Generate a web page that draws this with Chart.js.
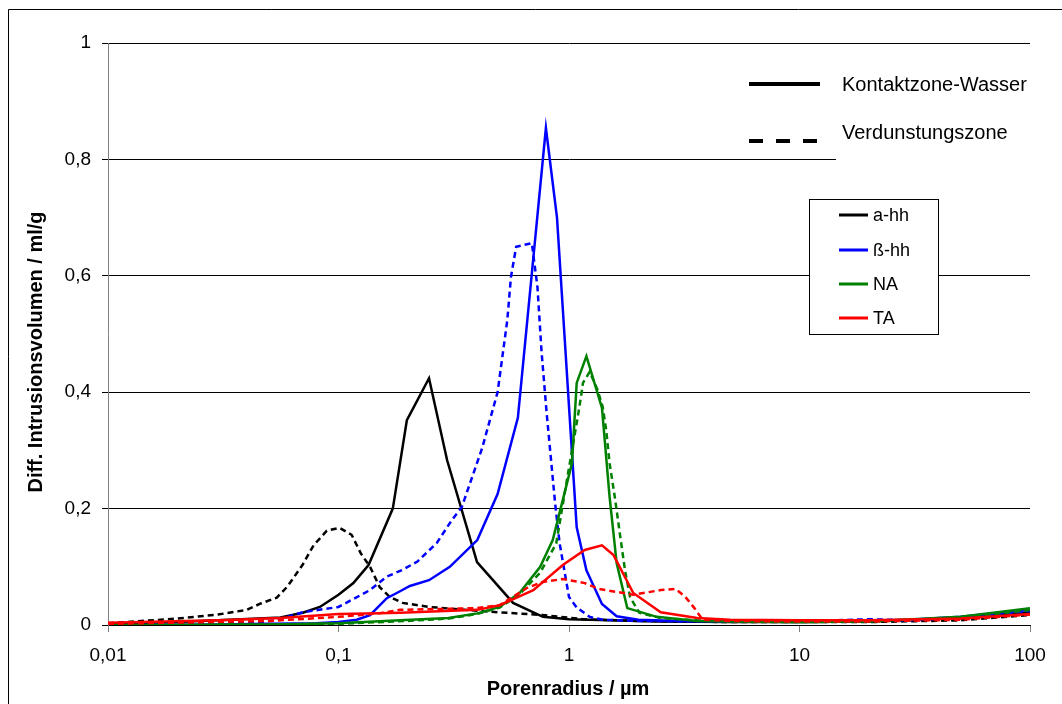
<!DOCTYPE html>
<html><head><meta charset="utf-8">
<script src="https://cdn.jsdelivr.net/npm/chart.js@4.4.1/dist/chart.umd.min.js"></script>
<style>html,body{margin:0;padding:0;background:#fff;}canvas{display:block;}</style>
</head><body>
<canvas id="c" width="1062" height="704"></canvas>
<script>
// ---- axis / label data ----
const xTickValues = [0.01, 0.1, 1, 10, 100];
const xTickLabels = ['0,01', '0,1', '1', '10', '100'];
const yTickValues = [0, 0.2, 0.4, 0.6, 0.8, 1];
const yTickLabels = ['0', '0,2', '0,4', '0,6', '0,8', '1'];
const seriesNames = ['a-hh', 'ß-hh', 'NA', 'TA'];
const zoneNames = ['Kontaktzone-Wasser', 'Verdunstungszone'];
const xTitle = 'Porenradius / µm';
const yTitle = 'Diff. Intrusionsvolumen / ml/g';

// ---- a-hh ----
const aHhKontaktR = [0.01, 0.02, 0.03, 0.045, 0.056, 0.07, 0.083, 0.1, 0.116, 0.135, 0.172, 0.198, 0.247, 0.296, 0.399, 0.572, 0.771, 1.0, 1.5, 2.5, 5, 10, 20, 50, 100];
const aHhKontaktV = [0.002, 0.005, 0.008, 0.011, 0.013, 0.021, 0.031, 0.052, 0.072, 0.103, 0.2, 0.352, 0.424, 0.283, 0.108, 0.038, 0.014, 0.010, 0.008, 0.006, 0.005, 0.005, 0.006, 0.012, 0.022];
const aHhVerdR = [0.01, 0.02, 0.03, 0.04, 0.046, 0.054, 0.06, 0.07, 0.078, 0.089, 0.101, 0.114, 0.125, 0.137, 0.151, 0.167, 0.19, 0.247, 0.49, 0.77, 1.15, 2, 5, 10, 20, 50, 100];
const aHhVerdV = [0.003, 0.011, 0.018, 0.026, 0.037, 0.047, 0.066, 0.104, 0.137, 0.162, 0.167, 0.155, 0.123, 0.1, 0.065, 0.048, 0.038, 0.031, 0.022, 0.017, 0.010, 0.007, 0.005, 0.005, 0.005, 0.008, 0.017];

// ---- ß-hh ----
const bHhKontaktR = [0.01, 0.03, 0.05, 0.08, 0.1, 0.12, 0.137, 0.162, 0.185, 0.204, 0.247, 0.304, 0.40, 0.49, 0.60, 0.794, 0.887, 1.08, 1.19, 1.39, 1.61, 2, 3, 5, 10, 20, 30, 50, 100];
const bHhKontaktV = [0.0, 0.001, 0.002, 0.003, 0.005, 0.009, 0.017, 0.046, 0.058, 0.067, 0.077, 0.1, 0.146, 0.225, 0.356, 0.854, 0.70, 0.168, 0.094, 0.036, 0.015, 0.009, 0.007, 0.006, 0.006, 0.007, 0.009, 0.014, 0.026];
const bHhVerdR = [0.01, 0.03, 0.047, 0.055, 0.07, 0.1, 0.137, 0.162, 0.19, 0.22, 0.267, 0.31, 0.343, 0.42, 0.49, 0.54, 0.56, 0.59, 0.69, 0.73, 0.76, 0.80, 0.87, 0.91, 1.0, 1.08, 1.23, 1.4, 2, 5, 10, 20, 30, 50, 100];
const bHhVerdV = [0.001, 0.003, 0.005, 0.009, 0.022, 0.031, 0.06, 0.083, 0.095, 0.109, 0.141, 0.18, 0.203, 0.304, 0.40, 0.524, 0.598, 0.65, 0.656, 0.58, 0.47, 0.364, 0.21, 0.141, 0.048, 0.03, 0.014, 0.009, 0.007, 0.006, 0.006, 0.010, 0.008, 0.012, 0.024];

// ---- NA ----
const naKontaktR = [0.01, 0.05, 0.1, 0.185, 0.3, 0.4, 0.5, 0.61, 0.75, 0.85, 0.94, 1.03, 1.08, 1.19, 1.39, 1.5, 1.61, 1.79, 2.4, 3.6, 5, 10, 20, 50, 100];
const naKontaktV = [0.0, 0.001, 0.003, 0.008, 0.012, 0.02, 0.031, 0.055, 0.1, 0.146, 0.215, 0.278, 0.416, 0.462, 0.373, 0.22, 0.106, 0.029, 0.014, 0.007, 0.006, 0.005, 0.006, 0.014, 0.029];
const naVerdR = [0.01, 0.05, 0.1, 0.2, 0.3, 0.4, 0.5, 0.6, 0.75, 0.88, 0.99, 1.08, 1.11, 1.15, 1.23, 1.33, 1.4, 1.45, 1.5, 1.58, 1.67, 1.75, 1.84, 2.02, 2.5, 4, 10, 20, 50, 100];
const naVerdV = [0.0, 0.001, 0.002, 0.007, 0.011, 0.019, 0.03, 0.05, 0.09, 0.14, 0.26, 0.347, 0.375, 0.416, 0.435, 0.404, 0.375, 0.335, 0.278, 0.22, 0.151, 0.094, 0.048, 0.021, 0.012, 0.007, 0.005, 0.006, 0.012, 0.026];

// ---- TA ----
const taKontaktR = [0.01, 0.03, 0.056, 0.1, 0.15, 0.185, 0.4, 0.5, 0.57, 0.70, 0.94, 1.17, 1.39, 1.56, 1.9, 2.5, 3.6, 5, 10, 20, 50, 100];
const taKontaktV = [0.004, 0.008, 0.012, 0.019, 0.02, 0.021, 0.026, 0.034, 0.044, 0.06, 0.103, 0.129, 0.137, 0.12, 0.055, 0.022, 0.012, 0.009, 0.008, 0.008, 0.011, 0.019];
const taVerdR = [0.01, 0.05, 0.1, 0.15, 0.185, 0.4, 0.5, 0.66, 0.77, 0.94, 1.17, 1.35, 1.9, 2.5, 2.9, 3.2, 3.5, 3.8, 5, 10, 20, 50, 100];
const taVerdV = [0.002, 0.007, 0.014, 0.02, 0.026, 0.029, 0.034, 0.064, 0.074, 0.079, 0.072, 0.062, 0.052, 0.06, 0.062, 0.048, 0.029, 0.009, 0.007, 0.006, 0.006, 0.009, 0.018];

const seriesColors = ['#000000', '#0000FF', '#008000', '#FF0000'];
const dashPattern = [6, 4];
const FONT = '"Liberation Sans", Arial, Helvetica, sans-serif';

function pts(r, v) { return r.map((x, i) => ({ x: x, y: v[i] })); }
function ds(name, r, v, color, dashed) {
  return { label: name, data: pts(r, v), borderColor: color, backgroundColor: color,
           borderWidth: 2.5, borderDash: dashed ? dashPattern : [], pointRadius: 0,
           tension: 0, fill: false };
}

const datasets = [
  ds(seriesNames[3] + ' ' + zoneNames[0], taKontaktR, taKontaktV, seriesColors[3], false),
  ds(seriesNames[3] + ' ' + zoneNames[1], taVerdR, taVerdV, seriesColors[3], true),
  ds(seriesNames[2] + ' ' + zoneNames[0], naKontaktR, naKontaktV, seriesColors[2], false),
  ds(seriesNames[2] + ' ' + zoneNames[1], naVerdR, naVerdV, seriesColors[2], true),
  ds(seriesNames[1] + ' ' + zoneNames[0], bHhKontaktR, bHhKontaktV, seriesColors[1], false),
  ds(seriesNames[1] + ' ' + zoneNames[1], bHhVerdR, bHhVerdV, seriesColors[1], true),
  ds(seriesNames[0] + ' ' + zoneNames[0], aHhKontaktR, aHhKontaktV, seriesColors[0], false),
  ds(seriesNames[0] + ' ' + zoneNames[1], aHhVerdR, aHhVerdV, seriesColors[0], true)
];

const deco = {
  id: 'deco',
  beforeDatasetsDraw(chart) {
    const ctx = chart.ctx, a = chart.chartArea;
    ctx.save();
    ctx.fillStyle = '#ffffff';
    ctx.fillRect(836, 150, a.right - 836, 20);
    ctx.restore();
  },
  afterDraw(chart) {
    const ctx = chart.ctx;
    ctx.save();
    // outer frame
    ctx.strokeStyle = '#000'; ctx.lineWidth = 1; ctx.setLineDash([]);
    ctx.beginPath(); ctx.moveTo(8.5, 704); ctx.lineTo(8.5, 9.5); ctx.lineTo(1062, 9.5); ctx.stroke();

    // axis titles
    ctx.fillStyle = '#000';
    ctx.font = 'bold 20px ' + FONT;
    ctx.textAlign = 'center'; ctx.textBaseline = 'middle';
    ctx.fillText(xTitle, 568, 689);
    ctx.save();
    ctx.translate(36, 352); ctx.rotate(-Math.PI / 2);
    ctx.fillText(yTitle, 0, 0);
    ctx.restore();

    // zone legend (line styles)
    ctx.strokeStyle = '#000'; ctx.lineWidth = 4; ctx.lineCap = 'butt';
    ctx.beginPath(); ctx.moveTo(749, 84); ctx.lineTo(820, 84); ctx.stroke();
    ctx.setLineDash([14, 13]);
    ctx.beginPath(); ctx.moveTo(749, 141); ctx.lineTo(820, 141); ctx.stroke();
    ctx.setLineDash([]);
    ctx.font = '20px ' + FONT; ctx.textAlign = 'left';
    ctx.fillText(zoneNames[0], 842, 85);
    ctx.fillText(zoneNames[1], 842, 133);

    // series legend box
    ctx.fillStyle = '#fff';
    ctx.fillRect(809, 199, 129, 135);
    ctx.strokeStyle = '#000'; ctx.lineWidth = 1;
    ctx.strokeRect(809.5, 199.5, 129, 135);
    const ys = [215, 250, 284, 318];
    ctx.font = '18px ' + FONT;
    for (let i = 0; i < seriesNames.length; i++) {
      ctx.strokeStyle = seriesColors[i]; ctx.lineWidth = 3;
      ctx.beginPath(); ctx.moveTo(839, ys[i]); ctx.lineTo(868, ys[i]); ctx.stroke();
      ctx.fillStyle = '#000';
      ctx.fillText(seriesNames[i], 873, ys[i] + 1);
    }
    ctx.restore();
  }
};

new Chart(document.getElementById('c'), {
  type: 'line',
  data: { datasets: datasets },
  plugins: [deco],
  options: {
    responsive: false,
    animation: false,
    devicePixelRatio: 1,
    layout: { padding: { top: 43, right: 32, left: 0, bottom: 0 } },
    plugins: { legend: { display: false }, tooltip: { enabled: false } },
    scales: {
      x: {
        type: 'logarithmic', min: 0.01, max: 100,
        afterBuildTicks(s) { s.ticks = xTickValues.map(v => ({ value: v })); },
        afterFit(s) { s.height = 79; },
        ticks: {
          autoSkip: false, maxRotation: 0, padding: 12, color: '#000',
          font: { family: FONT, size: 19 },
          callback(v) { const i = xTickValues.findIndex(t => Math.abs(t - v) < v * 1e-6); return i >= 0 ? xTickLabels[i] : ''; }
        },
        grid: { drawOnChartArea: false, drawTicks: true, tickLength: 7, color: '#808080', lineWidth: 1 },
        border: { color: '#000', width: 1 }
      },
      y: {
        type: 'linear', min: 0, max: 1,
        afterBuildTicks(s) { s.ticks = yTickValues.map(v => ({ value: v })); },
        afterFit(s) { s.width = 108; },
        ticks: {
          padding: 11, color: '#000', font: { family: FONT, size: 19 },
          callback(v) { const i = yTickValues.findIndex(t => Math.abs(t - v) < 1e-9); return i >= 0 ? yTickLabels[i] : ''; }
        },
        grid: { color: '#000', lineWidth: 1, drawTicks: true, tickLength: 6 },
        border: { color: '#808080', width: 1 }
      }
    }
  }
});
</script>
</body></html>
